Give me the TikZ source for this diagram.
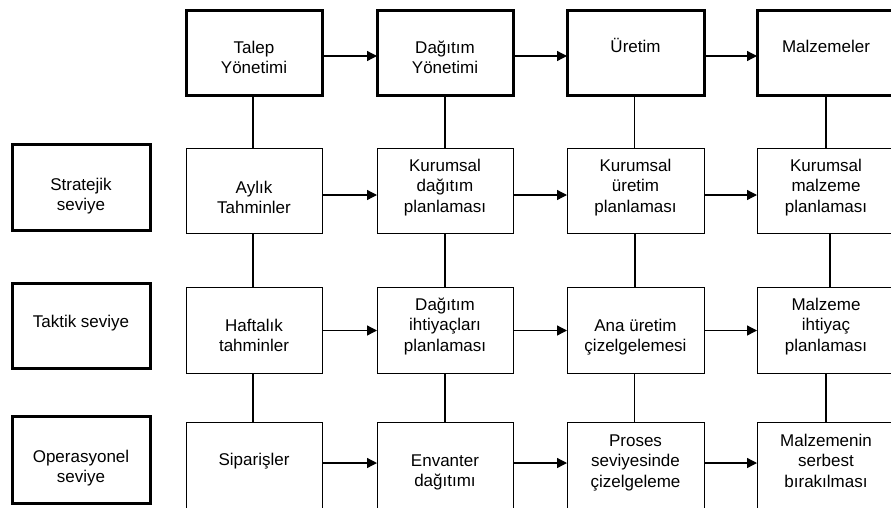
\documentclass[tikz,border=0pt]{standalone}
\usepackage{fontspec}
\setmainfont{Liberation Sans}
\usetikzlibrary{arrows.meta}

% a cell: fixed height and width, text set from the top after a given gap
\newcommand\cellbox[4]{\parbox[c][#1][t]{#2}{\centering\vspace*{#3}\strut#4\par}}

\tikzset{
  cell/.style={draw, line width=1pt, inner sep=0pt, outer sep=0pt},
  headcell/.style={cell, line width=3pt},
  arr/.style={-{Triangle[length=10pt,width=10pt]}, line width=1.3pt},
  link/.style={line width=1.1pt}
}

\begin{document}
\begin{tikzpicture}[x=1pt, y=-1pt]
\fontsize{17}{20.3}\selectfont
\useasboundingbox (0,0) rectangle (891,507);

% level labels
\node[headcell] (lv1) at (81,187)   {\cellbox{86pt}{138pt}{32.3pt}{Stratejik\\seviye}};
\node[headcell] (lv2) at (81,325.5) {\cellbox{85pt}{138pt}{30.3pt}{Taktik seviye}};
\node[headcell] (lv3) at (81,459.5) {\cellbox{87pt}{138pt}{32.3pt}{Operasyonel\\seviye}};

% column heads
\node[headcell] (h1) at (254,52.5)   {\cellbox{85pt}{136pt}{29.3pt}{Talep\\Yönetimi}};
\node[headcell] (h2) at (445,52.5)   {\cellbox{85pt}{136pt}{29.3pt}{Dağıtım\\Yönetimi}};
\node[headcell] (h3) at (635.5,52.5) {\cellbox{85pt}{137pt}{28.3pt}{Üretim}};
\node[headcell] (h4) at (826,52.5)   {\cellbox{85pt}{138pt}{28.3pt}{Malzemeler}};

% strategic row
\node[cell] (s1) at (254,191)   {\cellbox{85pt}{136pt}{30.8pt}{Aylık\\Tahminler}};
\node[cell] (s2) at (445,191)   {\cellbox{85pt}{136pt}{8.8pt}{Kurumsal\\dağıtım\\planlaması}};
\node[cell] (s3) at (635.5,191) {\cellbox{85pt}{137pt}{8.8pt}{Kurumsal\\üretim\\planlaması}};
\node[cell] (s4) at (826,191)   {\cellbox{85pt}{138pt}{8.8pt}{Kurumsal\\malzeme\\planlaması}};

% tactical row
\node[cell] (k1) at (254,330.5)   {\cellbox{86pt}{136pt}{29.8pt}{Haftalık\\tahminler}};
\node[cell] (k2) at (445,330.5)   {\cellbox{86pt}{136pt}{8.8pt}{Dağıtım\\ihtiyaçları\\planlaması}};
\node[cell] (k3) at (635.5,330.5) {\cellbox{86pt}{137pt}{29.8pt}{Ana üretim\\çizelgelemesi}};
\node[cell] (k4) at (826,330.5)   {\cellbox{86pt}{138pt}{8.8pt}{Malzeme\\ihtiyaç\\planlaması}};

% operational row
\node[cell] (o1) at (254,466)   {\cellbox{87pt}{136pt}{28.8pt}{Siparişler}};
\node[cell] (o2) at (445,466)   {\cellbox{87pt}{136pt}{29.8pt}{Envanter\\dağıtımı}};
\node[cell] (o3) at (635.5,466) {\cellbox{87pt}{137pt}{9.8pt}{Proses\\seviyesinde\\çizelgeleme}};
\node[cell] (o4) at (826,466)   {\cellbox{87pt}{138pt}{9.8pt}{Malzemenin\\serbest\\bırakılması}};

% vertical links
\draw[link] ([xshift=-1pt]h1.south) -- ([xshift=-1pt]s1.north);
\draw[link] ([xshift=-1pt]s1.south) -- ([xshift=-1pt]k1.north);
\draw[link] ([xshift=-1pt]k1.south) -- ([xshift=-1pt]o1.north);
\draw[link] (h2.south) -- (s2.north);
\draw[link] (s2.south) -- (k2.north);
\draw[link] (k2.south) -- (o2.north);
\draw[link] ([xshift=-1pt]h3.south) -- ([xshift=-1pt]s3.north);
\draw[link] ([xshift=-0.5pt]s3.south) -- ([xshift=-0.5pt]k3.north);
\draw[link] ([xshift=-1pt]k3.south) -- ([xshift=-1pt]o3.north);
\draw[link] (h4.south) -- (s4.north);
\draw[link] ([xshift=4pt]s4.south) -- ([xshift=4pt]k4.north);
\draw[link] (k4.south) -- (o4.north);

% horizontal flow
\foreach \a/\b in {h1/h2,h2/h3,h3/h4}
  \draw[arr] ([yshift=-3.5pt]\a.east) -- ([yshift=-3.5pt]\b.west);
\foreach \a/\b in {s1/s2,s2/s3,s3/s4}
  \draw[arr] ([yshift=-4pt]\a.east) -- ([yshift=-4pt]\b.west);
\foreach \a/\b in {k1/k2,k2/k3,k3/k4}
  \draw[arr] (\a.east) -- (\b.west);
\foreach \a/\b in {o1/o2,o2/o3,o3/o4}
  \draw[arr] ([yshift=3pt]\a.east) -- ([yshift=3pt]\b.west);
\end{tikzpicture}
\end{document}
